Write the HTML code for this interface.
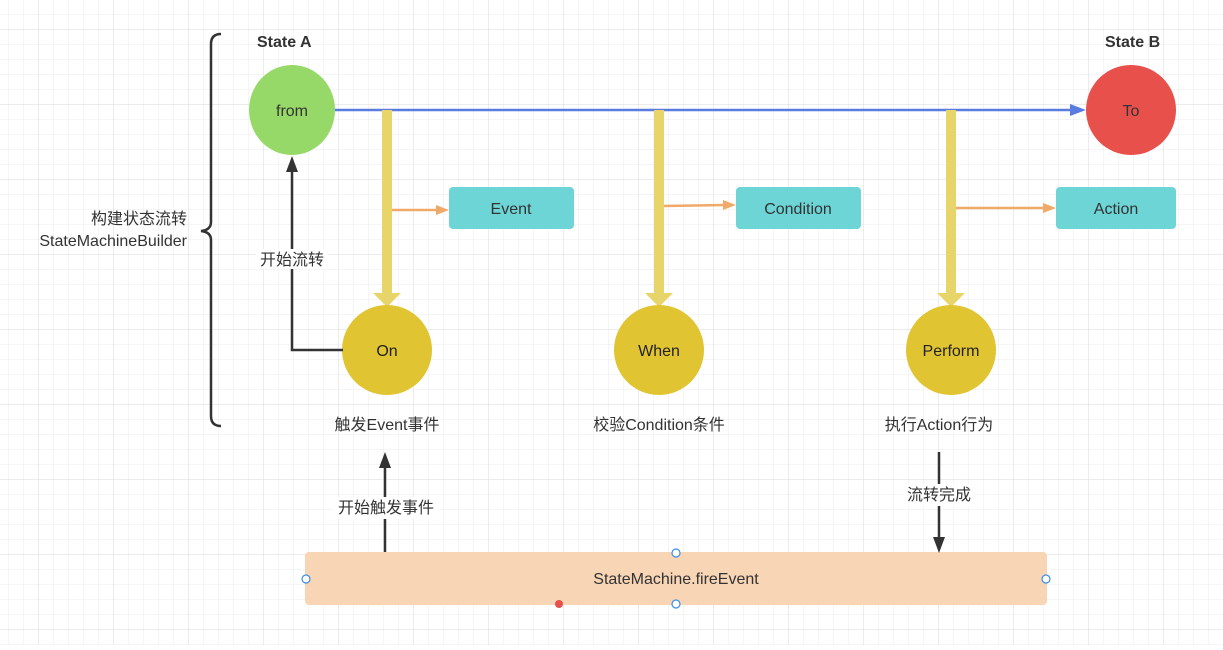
<!DOCTYPE html><html><head><meta charset="utf-8"><style>
body{margin:0;width:1223px;height:645px;overflow:hidden;background:#fff}
svg text{font-family:"Liberation Sans","Noto Sans CJK SC",sans-serif;}
</style></head><body>
<svg width="1223" height="645" xmlns="http://www.w3.org/2000/svg">
<defs>
<pattern id="g" x="8" y="14" width="15" height="15" patternUnits="userSpaceOnUse"><path d="M0 0H15M0 0V15" stroke="#ebebeb" stroke-width="1" fill="none"/></pattern>
<pattern id="G" x="38" y="29" width="75" height="75" patternUnits="userSpaceOnUse"><path d="M0 0H75M0 0V75" stroke="#dadada" stroke-width="1" fill="none"/></pattern>
</defs>
<rect width="1223" height="645" fill="url(#g)"/>
<rect width="1223" height="645" fill="url(#G)"/>
<path d="M221 34 Q211 34 211 44 V222 Q211 230 201 231 Q211 232 211 240 V416 Q211 426 221 426" fill="none" stroke="#333" stroke-width="2.5"/>
<text x="187" y="224" font-size="16" fill="#333" text-anchor="end">构建状态流转</text>
<text x="187" y="246" font-size="16" fill="#333" text-anchor="end">StateMachineBuilder</text>
<text x="257" y="47" font-size="16" font-weight="bold" fill="#333">State A</text>
<text x="1105" y="47" font-size="16" font-weight="bold" fill="#333">State B</text>
<line x1="334" y1="110" x2="1075" y2="110" stroke="#5a7be0" stroke-width="2.5"/>
<polygon points="1086,110 1070,104 1070,116" fill="#5a7be0"/>
<g fill="#e8d56a">
<rect x="382" y="110" width="10" height="184"/><polygon points="373,293 401,293 387,307"/>
<rect x="654" y="110" width="10" height="184"/><polygon points="645,293 673,293 659,307"/>
<rect x="946" y="110" width="10" height="184"/><polygon points="937,293 965,293 951,307"/>
</g>
<g stroke="#f0a968" stroke-width="2.5"><line x1="392" y1="210" x2="438" y2="210"/><line x1="664" y1="206" x2="726" y2="205"/><line x1="956" y1="208" x2="1046" y2="208"/></g>
<g fill="#f0a968"><polygon points="449,210 436,205 436,215"/><polygon points="736,205 723,200 723,210"/><polygon points="1056,208 1043,203 1043,213"/></g>
<g fill="#6dd5d6"><rect x="449" y="187" width="125" height="42" rx="4"/><rect x="736" y="187" width="125" height="42" rx="4"/><rect x="1056" y="187" width="120" height="42" rx="4"/></g>
<g font-size="16" fill="#333" text-anchor="middle"><text x="511" y="214">Event</text><text x="798" y="214">Condition</text><text x="1116" y="214">Action</text></g>
<ellipse cx="292" cy="110" rx="43" ry="45" fill="#97d968"/>
<text x="292" y="116" font-size="16" fill="#333" text-anchor="middle">from</text>
<ellipse cx="1131" cy="110" rx="45" ry="45" fill="#e8504c"/>
<text x="1131" y="116" font-size="16" fill="#333" text-anchor="middle">To</text>
<g fill="#e0c431"><ellipse cx="387" cy="350" rx="45" ry="45"/><ellipse cx="659" cy="350" rx="45" ry="45"/><ellipse cx="951" cy="350" rx="45" ry="45"/></g>
<g font-size="16" fill="#222" text-anchor="middle"><text x="387" y="356">On</text><text x="659" y="356">When</text><text x="951" y="356">Perform</text></g>
<path d="M343 350 H292 V170" fill="none" stroke="#333" stroke-width="2.5"/>
<polygon points="292,156 286,172 298,172" fill="#333"/>
<rect x="256" y="249" width="72" height="20" fill="#fff"/>
<text x="292" y="265" font-size="16" fill="#333" text-anchor="middle">开始流转</text>
<g font-size="16" fill="#333" text-anchor="middle"><text x="387" y="430">触发Event事件</text><text x="659" y="430">校验Condition条件</text><text x="939" y="430">执行Action行为</text></g>
<rect x="305" y="552" width="742" height="53" rx="4" fill="#f8d5b5"/>
<text x="676" y="584" font-size="16" fill="#333" text-anchor="middle">StateMachine.fireEvent</text>
<line x1="385" y1="552" x2="385" y2="465" stroke="#333" stroke-width="2.5"/>
<polygon points="385,452 379,468 391,468" fill="#333"/>
<rect x="333" y="497" width="106" height="22" fill="#fff"/>
<text x="386" y="513" font-size="16" fill="#333" text-anchor="middle">开始触发事件</text>
<line x1="939" y1="452" x2="939" y2="540" stroke="#333" stroke-width="2.5"/>
<polygon points="939,553 933,537 945,537" fill="#333"/>
<rect x="903" y="484" width="72" height="22" fill="#fff"/>
<text x="939" y="500" font-size="16" fill="#333" text-anchor="middle">流转完成</text>
<g fill="#fff" stroke="#3a8ee6" stroke-width="1.2"><circle cx="676" cy="553" r="4"/><circle cx="676" cy="604" r="4"/><circle cx="306" cy="579" r="4"/><circle cx="1046" cy="579" r="4"/></g>
<circle cx="559" cy="604" r="4" fill="#e8504c"/>
</svg>
</body></html>
